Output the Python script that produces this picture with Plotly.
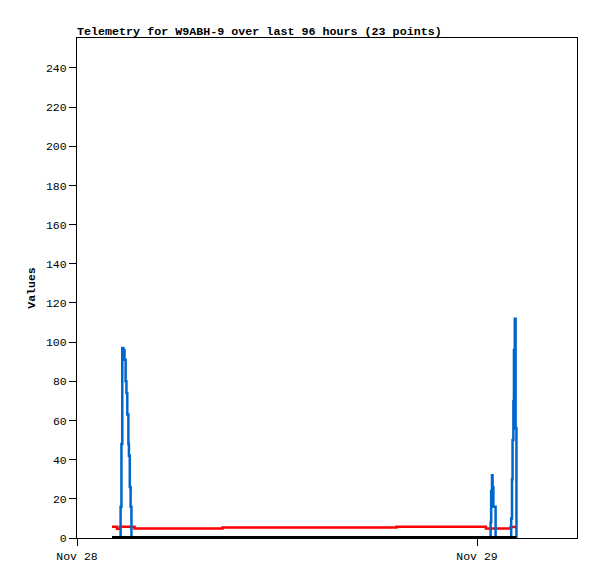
import plotly.graph_objects as go

times = [
    "2024-11-28 02:06", "2024-11-28 02:13", "2024-11-28 02:24", "2024-11-28 02:35",
    "2024-11-28 02:37", "2024-11-28 02:40", "2024-11-28 02:43", "2024-11-28 02:47",
    "2024-11-28 02:51", "2024-11-28 02:55", "2024-11-28 02:58", "2024-11-28 03:01",
    "2024-11-28 03:05", "2024-11-28 03:07", "2024-11-28 03:10", "2024-11-28 03:13",
    "2024-11-28 03:16", "2024-11-28 03:27", "2024-11-28 08:38", "2024-11-28 08:44",
    "2024-11-28 19:05", "2024-11-28 19:10", "2024-11-29 00:22", "2024-11-29 00:32",
    "2024-11-29 00:47", "2024-11-29 00:49", "2024-11-29 00:51", "2024-11-29 00:54",
    "2024-11-29 00:56", "2024-11-29 00:59", "2024-11-29 01:07", "2024-11-29 01:56",
    "2024-11-29 02:01", "2024-11-29 02:03", "2024-11-29 02:06", "2024-11-29 02:08",
    "2024-11-29 02:11", "2024-11-29 02:13", "2024-11-29 02:16", "2024-11-29 02:19",
    "2024-11-29 02:22",
]

blue_vals = [0, 0, 0, 0, 16, 48, 97, 96, 91, 80, 74, 63, 48, 42, 26, 16,
             0, 0, 0, 0, 0, 0, 0, 0,
             0, 8, 24, 32, 26, 16, 0, 0,
             0, 10, 30, 50, 70, 96, 112, 56, 0]

red_vals = [5.8, 5.8, 4.7, 5.8, 5.8, 5.8, 5.8, 5.8, 5.8, 5.8, 5.8, 5.8, 5.8, 5.8, 5.8, 5.8,
            5.8, 4.8, 4.8, 5.3, 5.3, 5.8, 5.8, 4.8,
            4.8, 4.8, 4.8, 4.8, 4.8, 4.8, 4.8, 4.8,
            5.6, 5.6, 5.6, 5.6, 5.6, 5.6, 5.6, 5.6, 5.6]

black_vals = [0] * len(times)

y_ticks = [0, 20, 40, 60, 80, 100, 120, 140, 160, 180, 200, 220, 240]
x_tick_vals = ["2024-11-28 00:00", "2024-11-29 00:00"]
x_tick_text = ["Nov 28", "Nov 29"]

FONT = "Liberation Mono"
W, H = 589, 571  # page body adds an 8px offset

fig = go.Figure()
fig.add_trace(go.Scatter(x=times, y=red_vals, mode="lines",
                         line=dict(color="#ff0000", width=2.5, shape="hv"), showlegend=False))
fig.add_trace(go.Scatter(x=times, y=blue_vals, mode="lines",
                         line=dict(color="#0066cc", width=2.5, shape="hv"), showlegend=False))
fig.add_trace(go.Scatter(x=times, y=black_vals, mode="lines",
                         line=dict(color="#000000", width=4), showlegend=False))

fig.update_layout(
    width=W, height=H,
    margin=dict(l=69, r=20, t=30, b=41),
    paper_bgcolor="white", plot_bgcolor="white",
    font=dict(family=FONT, size=11.5, color="black"),
    title=dict(text="<b>Telemetry for W9ABH-9 over last 96 hours (23 points)</b>",
               x=69 / W, xanchor="left", xref="container",
               y=1 - 23 / H, yanchor="middle", yref="container",
               font=dict(family=FONT, size=11.7, color="black")),
    xaxis=dict(type="date", range=["2024-11-28 00:00", "2024-11-29 06:00"],
               tickvals=x_tick_vals, ticktext=x_tick_text, automargin=False,
               ticks="outside", ticklen=7, tickcolor="black", tickwidth=1,
               showline=True, linecolor="black", linewidth=1, mirror=True,
               showgrid=False, zeroline=False,
               tickfont=dict(family=FONT, size=11.5)),
    yaxis=dict(range=[0, 255.3], tickvals=y_ticks, automargin=False,
               ticks="outside", ticklen=7, tickcolor="black", tickwidth=1,
               ticksuffix=" ",
               showline=True, linecolor="black", linewidth=1, mirror=True,
               showgrid=False, zeroline=False,
               tickfont=dict(family=FONT, size=11.5),
               title=dict(text="<b>Values</b>", font=dict(family=FONT, size=11.5),
                          standoff=7)),
)

fig.write_html("out.html")
